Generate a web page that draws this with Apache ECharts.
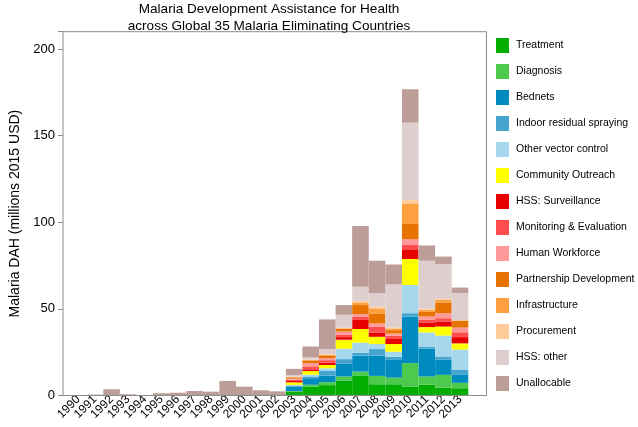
<!DOCTYPE html>
<html>
<head>
<meta charset="utf-8">
<script src="https://cdn.jsdelivr.net/npm/echarts@6/dist/echarts.min.js"></script>
<style>html,body{margin:0;padding:0;background:#fff;}#chart{width:638px;height:427px;}</style>
</head>
<body>
<div id="chart"></div>
<script>
const years = ['1990','1991','1992','1993','1994','1995','1996','1997','1998','1999','2000','2001','2002','2003','2004','2005','2006','2007','2008','2009','2010','2011','2012','2013'];
const yTicks = [0, 50, 100, 150, 200];
const seriesNames = ['Treatment','Diagnosis','Bednets','Indoor residual spraying','Other vector control','Community Outreach','HSS: Surveillance','Monitoring & Evaluation','Human Workforce','Partnership Development','Infrastructure','Procurement','HSS: other','Unallocable'];
const seriesColors = ['#00AD00','#4DC94D','#008BC0','#45A5CF','#A5D8EC','#FFFF00','#E60000','#FF4D4D','#FF9999','#E67300','#FFA040','#FFCC99','#DECECE','#BC9D98'];
const zeros13 = [0,0,0,0,0,0,0,0,0,0,0,0,0];
// values 2003..2013 for each series (1990-2002 are zero except Unallocable)
const treatment   = zeros13.concat([2.3, 5.0, 6.0, 8.7, 11.3, 6.5, 6.5, 5.2, 6.2, 4.6, 4.2]);
const diagnosis   = zeros13.concat([0.2, 1.2, 1.7, 2.3, 2.5, 4.8, 3.8, 13.5, 4.8, 7.3, 3.1]);
const bednets     = zeros13.concat([2.5, 3.8, 3.8, 7.3, 9.2, 11.7, 10.6, 26.9, 16.0, 8.7, 4.9]);
const irs         = zeros13.concat([0.5, 1.0, 2.9, 2.7, 1.7, 3.8, 1.5, 1.9, 1.3, 1.9, 2.8]);
const otherVector = zeros13.concat([0.6, 1.0, 1.3, 6.0, 5.8, 2.9, 2.9, 16.3, 8.1, 12.1, 11.5]);
const community   = zeros13.concat([1.5, 2.1, 1.9, 5.2, 7.9, 4.2, 4.4, 15.0, 3.1, 5.2, 3.6]);
const surveillance= zeros13.concat([0.8, 1.0, 1.3, 1.5, 5.2, 2.3, 2.9, 5.6, 2.7, 2.9, 3.6]);
const mande       = zeros13.concat([0.7, 1.7, 1.5, 1.3, 1.9, 3.5, 1.9, 2.5, 1.5, 1.9, 2.8]);
const workforce   = zeros13.concat([0.6, 1.9, 1.2, 1.9, 1.5, 1.9, 1.3, 3.3, 1.9, 2.9, 2.7]);
const partnership = zeros13.concat([0.7, 1.5, 1.5, 1.5, 5.2, 5.8, 1.9, 8.8, 2.9, 6.2, 3.8]);
const infrastructure = zeros13.concat([0.3, 0.3, 0.4, 0.4, 1.5, 2.9, 1.0, 11.9, 1.0, 1.5, 0.3]);
const procurement = zeros13.concat([0.3, 0.3, 0.4, 0.3, 1.0, 1.0, 0.6, 1.9, 0.6, 0.6, 0.3]);
const hssOther    = zeros13.concat([0.8, 1.2, 2.9, 7.5, 8.1, 7.7, 24.8, 44.7, 27.7, 20.0, 15.6]);
const unallocable = [0.2, 0.5, 3.6, 0.7, 0.3, 1.3, 1.6, 2.6, 2.2, 8.4, 5.1, 3.0, 2.4,
                     3.6, 6.3, 17.1, 5.6, 35.0, 18.8, 11.5, 19.3, 8.8, 4.4, 3.1];
const seriesValues = [treatment, diagnosis, bednets, irs, otherVector, community, surveillance, mande, workforce, partnership, infrastructure, procurement, hssOther, unallocable];

const FONT = '"Liberation Sans", Arial, Helvetica, sans-serif';
const chart = echarts.init(document.getElementById('chart'), null, {renderer: 'canvas'});
const gridTop = 31.7, gridBottom = 31.5;
chart.setOption({
  animation: false,
  backgroundColor: '#fff',
  textStyle: {fontFamily: FONT},
  title: {
    text: 'Malaria Development Assistance for Health\nacross Global 35 Malaria Eliminating Countries',
    left: 269, top: 1, padding: 0, textAlign: 'center',
    textStyle: {fontFamily: FONT, fontSize: 13.6, fontWeight: 'normal', color: '#000', lineHeight: 16.5}
  },
  legend: {
    orient: 'vertical', left: 496, top: 38, padding: 0, itemGap: 11,
    itemWidth: 13, itemHeight: 15, icon: 'rect',
    data: seriesNames,
    textStyle: {fontFamily: FONT, fontSize: 10.5, color: '#000', padding: [0,0,0,2]},
    selectedMode: false
  },
  grid: [
    {left: 51, right: 151.5, top: gridTop, bottom: gridBottom, show: true, borderColor: '#8c8c8c', borderWidth: 1, backgroundColor: 'transparent', z: 5},
    {left: 70.1, right: 169.7, top: gridTop, bottom: gridBottom}
  ],
  xAxis: [
    {gridIndex: 0, type: 'value', min: 0, max: 1, show: false},
    {gridIndex: 1, type: 'category', data: years,
     axisLine: {show: false}, axisTick: {show: false},
     axisLabel: {rotate: 45, interval: 0, fontSize: 12, margin: 2, color: '#000', fontFamily: FONT}}
  ],
  yAxis: [
    {gridIndex: 0, type: 'value', min: 0, max: 210, interval: 50,
     name: 'Malaria DAH (millions 2015 USD)', nameLocation: 'middle', nameGap: 41,
     nameTextStyle: {fontSize: 14, color: '#000', fontFamily: FONT},
     axisLine: {show: false},
     axisTick: {show: true, length: 5, lineStyle: {color: '#8c8c8c'}},
     axisLabel: {fontSize: 13, color: '#000', margin: 8, fontFamily: FONT,
       formatter: function (v) { return yTicks.indexOf(v) >= 0 ? String(v) : ''; }},
     splitLine: {show: false}},
    {gridIndex: 1, type: 'value', min: 0, max: 210, show: false, splitLine: {show: false}}
  ],
  series: seriesNames.map(function (name, i) {
    return {
      name: name, type: 'bar', stack: 'total', xAxisIndex: 1, yAxisIndex: 1,
      barWidth: '100%', barCategoryGap: 0,
      itemStyle: {color: seriesColors[i]},
      data: seriesValues[i]
    };
  })
});
</script>
</body>
</html>
